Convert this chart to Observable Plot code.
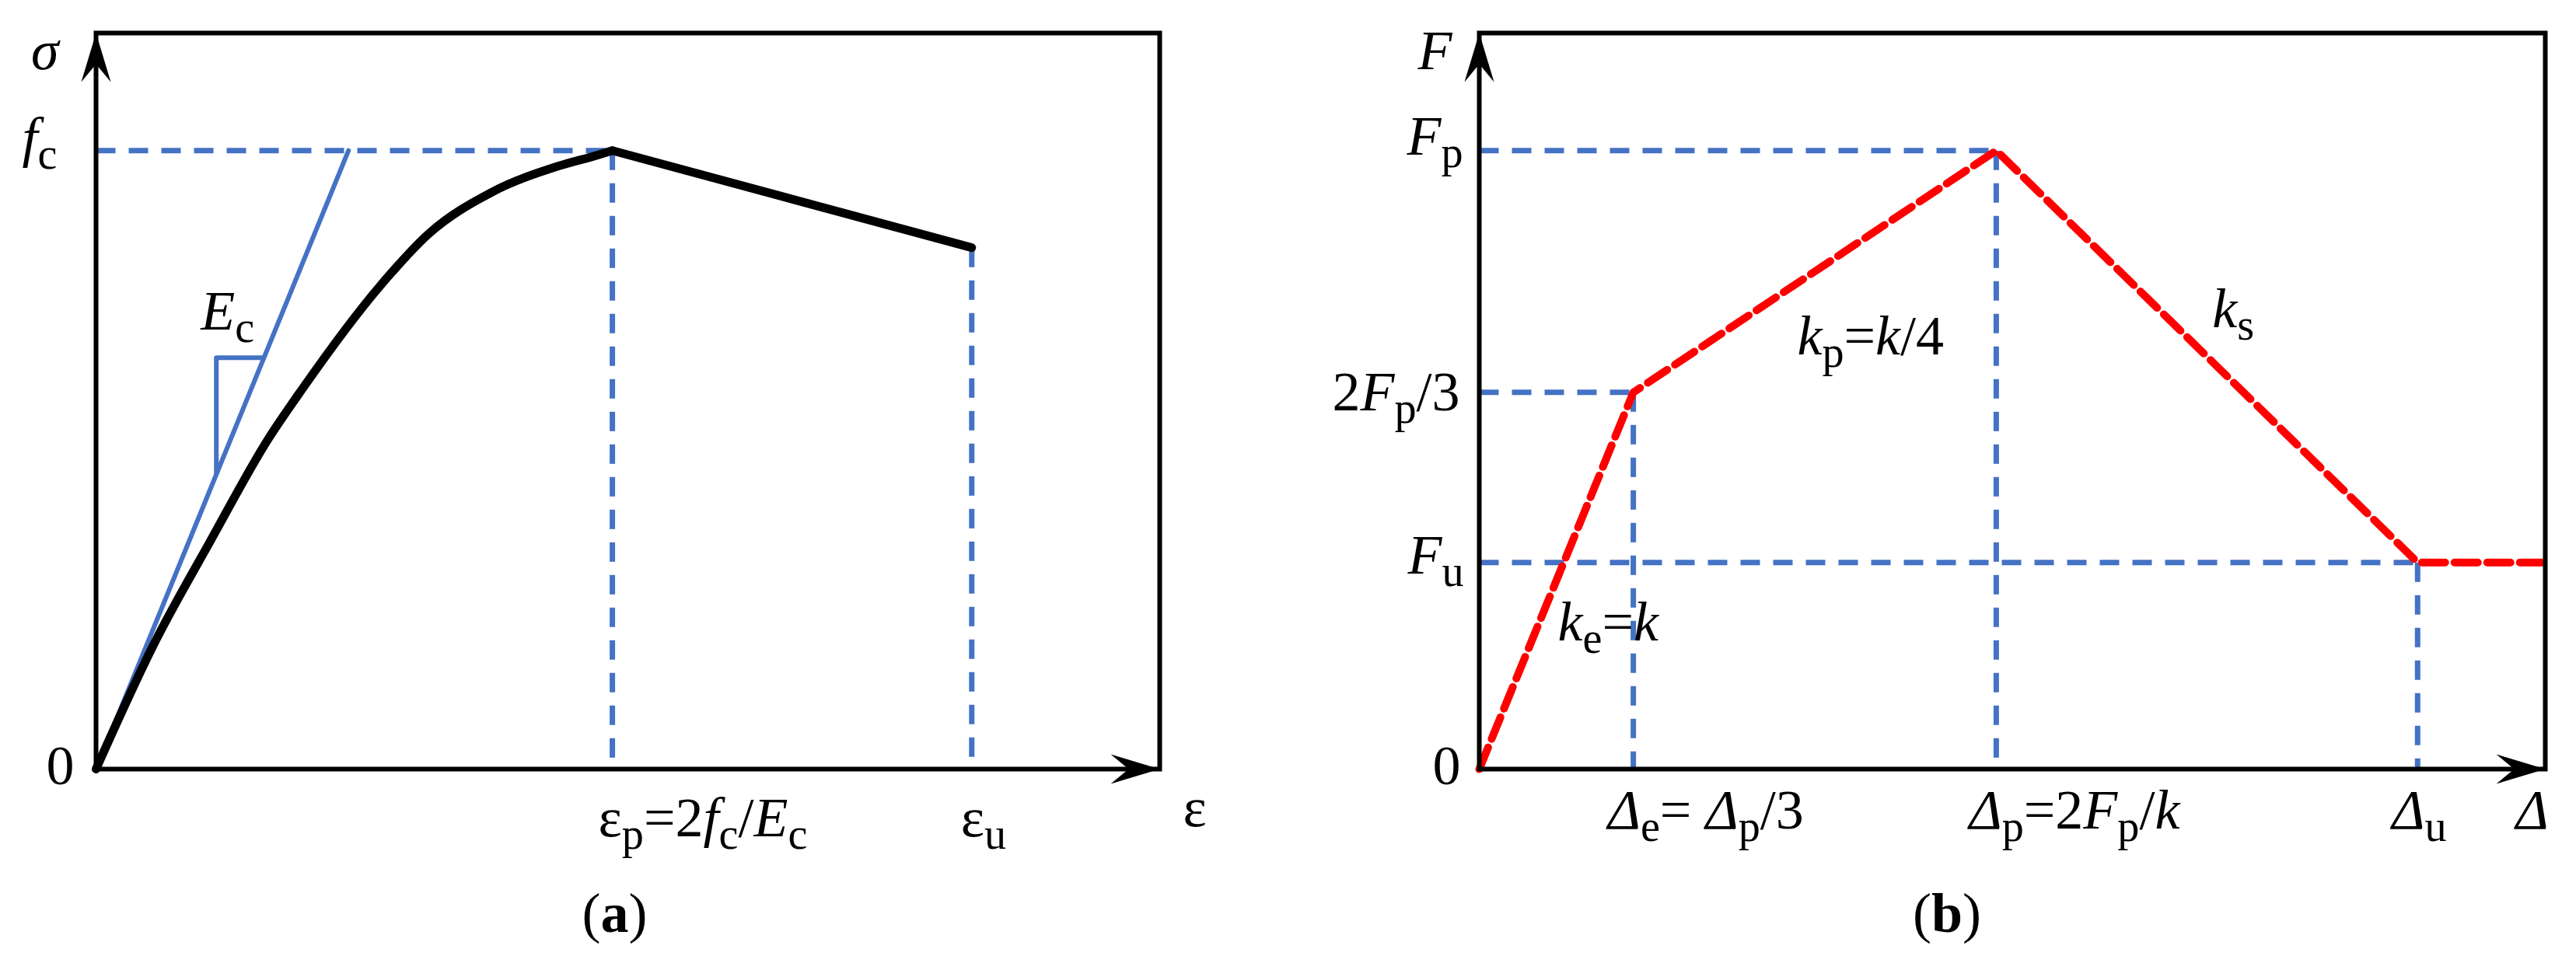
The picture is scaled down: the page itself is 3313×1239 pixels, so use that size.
<!DOCTYPE html>
<html>
<head>
<meta charset="utf-8">
<script src="https://cdn.jsdelivr.net/npm/d3@7"></script>
<script src="https://cdn.jsdelivr.net/npm/@observablehq/plot@0.6"></script>
<style>
  html, body { margin: 0; padding: 0; background: #ffffff; }
  #wrap { position: relative; width: 3313px; height: 1239px; overflow: hidden; background: #ffffff; }
  #pa { position: absolute; left: 0; top: 0; }
  #pb { position: absolute; left: 1656px; top: 0; }
  svg { overflow: visible; }
</style>
</head>
<body>
<div id="wrap"><div id="pa"></div><div id="pb"></div></div>
<script>
// ---------------- Panel (a): concrete stress–strain (units: ε/εp, σ/fc) ----------------
const aXMax = 2.06, aYMax = 1.19;
const aRiseStrain = [0, 0.113, 0.221, 0.333, 0.399, 0.55, 0.645, 0.765, 0.896, 0.973, 1.0];
const aRiseStress = [0, 0.2035, 0.368, 0.533, 0.614, 0.781, 0.866, 0.932, 0.975, 0.993, 1.0];
const aFallStrain = [1.0, 1.696];
const aFallStress = [1.0, 0.843];
const aTangentStrain = [0, 0.489];
const aTangentStress = [0, 1.0];
const aTriangleStrain = [0.233, 0.233, 0.325];
const aTriangleStress = [0.477, 0.665, 0.665];
const aPeakStrain = 1.0, aPeakStress = 1.0, aUltStrain = 1.696, aUltStress = 0.843;
const aYTickLabels = ["0", "*f*_c"];
const aXTickLabels = ["ε_p=2*f*_c/*E*_c", "ε_u"];
const aAxisLabels = ["*σ*", "ε"];
const aEcLabel = {x: 0.203, y: 0.711, t: "*E*_c"};
const aCaption = "(#a#)";

// ---------------- Panel (b): force–displacement (units: Δ/Δp, F/Fp) ----------------
const bXMax = 2.062, bYMax = 1.19;
const bCurveDisp  = [0, 0.298, 1.0, 1.815, 2.062];
const bCurveForce = [0, 0.609, 1.0, 0.334, 0.334];
const bElasticDisp = 0.298, bElasticForce = 0.609;
const bPeakDisp = 1.0, bPeakForce = 1.0;
const bUltDisp = 1.815, bUltForce = 0.334;
const bYTickLabels = ["0", "2*F*_p/3", "*F*_u", "*F*_p"];
const bXTickLabels = ["*Δ*_e= *Δ*_p/3", "*Δ*_p=2*F*_p/*k*", "*Δ*_u"];
const bAxisLabels = ["*F*", "*Δ*"];
const bSlopeLabels = [
  {x: 0.152, y: 0.2085, t: "*k*_e=*k*"},
  {x: 0.615, y: 0.671, t: "*k*_p=*k*/4"},
  {x: 1.418, y: 0.715, t: "*k*_s"}
];
const bCaption = "(#b#)";

// ---------------- styling ----------------
const FONT = "'Liberation Serif', 'Times New Roman', serif";
const FS = 72;
const BLUE = "#4472C4";
const RED = "#FF0000";

const arrowUp = {draw(ctx) { ctx.moveTo(0, 0); ctx.lineTo(19, 63); ctx.lineTo(0, 40); ctx.lineTo(-19, 63); ctx.closePath(); }};
const arrowRight = {draw(ctx) { ctx.moveTo(0, 0); ctx.lineTo(-63, -19); ctx.lineTo(-40, 0); ctx.lineTo(-63, 19); ctx.closePath(); }};

const pts = (xs, ys) => xs.map((x, i) => ({x, y: ys[i]}));

function lab(x, y, t, o) {
  return Plot.text([{x, y, t}], {x: "x", y: "y", text: "t", fontSize: FS, fontFamily: FONT,
    lineAnchor: "bottom", fill: "black", ...o});
}
function caption(t, o) {
  return Plot.text([t], {frameAnchor: "bottom", text: d => d, fontSize: FS, fontFamily: FONT,
    lineAnchor: "bottom", textAnchor: "middle", fill: "black", ...o});
}
function frameAndArrows(xMax, yMax) {
  return [
    Plot.frame({stroke: "black", strokeWidth: 6}),
    Plot.dot([{x: 0, y: yMax}], {x: "x", y: "y", symbol: arrowUp, fill: "black"}),
    Plot.dot([{x: xMax, y: 0}], {x: "x", y: "y", symbol: arrowRight, fill: "black"})
  ];
}

// ---------------- plot (a) ----------------
const aGuides = [
  {x1: 0, y1: aPeakStress, x2: aPeakStrain, y2: aPeakStress},
  {x1: aPeakStrain, y1: aPeakStress, x2: aPeakStrain, y2: 0},
  {x1: aUltStrain, y1: aUltStress, x2: aUltStrain, y2: 0}
];
const plotA = Plot.plot({
  width: 1656, height: 1239,
  marginLeft: 123, marginRight: 165, marginTop: 42, marginBottom: 250,
  x: {domain: [0, aXMax], axis: null},
  y: {domain: [0, aYMax], axis: null},
  style: {background: "transparent", fontFamily: FONT, overflow: "visible"},
  marks: [
    Plot.link(aGuides, {x1: "x1", y1: "y1", x2: "x2", y2: "y2", stroke: BLUE, strokeWidth: 7, strokeDasharray: "25,17"}),
    Plot.line(pts(aTangentStrain, aTangentStress), {x: "x", y: "y", stroke: BLUE, strokeWidth: 6}),
    Plot.line(pts(aTriangleStrain, aTriangleStress), {x: "x", y: "y", stroke: BLUE, strokeWidth: 6}),
    Plot.line(pts(aRiseStrain, aRiseStress), {x: "x", y: "y", curve: "monotone-x", stroke: "black", strokeWidth: 11, strokeLinecap: "round", strokeLinejoin: "round"}),
    Plot.line(pts(aFallStrain, aFallStress), {x: "x", y: "y", stroke: "black", strokeWidth: 11, strokeLinecap: "round", strokeLinejoin: "round"}),
    ...frameAndArrows(aXMax, aYMax),
    lab(0, aYMax, aAxisLabels[0], {textAnchor: "end", dx: -48, dy: 46}),
    lab(0, aPeakStress, aYTickLabels[1], {textAnchor: "end", dx: -50, dy: 7}),
    lab(0, 0, aYTickLabels[0], {textAnchor: "end", dx: -28, dy: 19}),
    lab(aPeakStrain, 0, aXTickLabels[0], {textAnchor: "start", dx: -18, dy: 86}),
    lab(aUltStrain, 0, aXTickLabels[1], {textAnchor: "start", dx: -14, dy: 86}),
    lab(aXMax, 0, aAxisLabels[1], {textAnchor: "start", dx: 30, dy: 73}),
    lab(aEcLabel.x, aEcLabel.y, aEcLabel.t, {textAnchor: "start"}),
    caption(aCaption, {dx: -17, dy: 209})
  ]
});

// ---------------- plot (b) ----------------
const bGuides = [
  {x1: 0, y1: bPeakForce, x2: bPeakDisp, y2: bPeakForce},
  {x1: 0, y1: bElasticForce, x2: bElasticDisp, y2: bElasticForce},
  {x1: 0, y1: bUltForce, x2: bUltDisp, y2: bUltForce},
  {x1: bElasticDisp, y1: bElasticForce, x2: bElasticDisp, y2: 0},
  {x1: bPeakDisp, y1: bPeakForce, x2: bPeakDisp, y2: 0},
  {x1: bUltDisp, y1: bUltForce, x2: bUltDisp, y2: 0}
];
const plotB = Plot.plot({
  width: 1657, height: 1239,
  marginLeft: 246, marginRight: 40, marginTop: 42, marginBottom: 250,
  x: {domain: [0, bXMax], axis: null},
  y: {domain: [0, bYMax], axis: null},
  style: {background: "transparent", fontFamily: FONT, overflow: "visible"},
  marks: [
    Plot.link(bGuides, {x1: "x1", y1: "y1", x2: "x2", y2: "y2", stroke: BLUE, strokeWidth: 7, strokeDasharray: "25,17"}),
    Plot.line(pts(bCurveDisp, bCurveForce), {x: "x", y: "y", stroke: RED, strokeWidth: 10, strokeDasharray: "30,12"}),
    ...frameAndArrows(bXMax, bYMax),
    lab(0, bYMax, bAxisLabels[0], {textAnchor: "end", dx: -35, dy: 46}),
    lab(0, bPeakForce, bYTickLabels[3], {textAnchor: "end", dx: -21, dy: 5}),
    lab(0, bElasticForce, bYTickLabels[1], {textAnchor: "end", dx: -25, dy: 23}),
    lab(0, bUltForce, bYTickLabels[2], {textAnchor: "end", dx: -20, dy: 14}),
    lab(0, 0, bYTickLabels[0], {textAnchor: "end", dx: -24, dy: 19}),
    lab(bElasticDisp, 0, bXTickLabels[0], {textAnchor: "start", dx: -33, dy: 76}),
    lab(bPeakDisp, 0, bXTickLabels[1], {textAnchor: "start", dx: -35, dy: 76}),
    lab(bUltDisp, 0, bXTickLabels[2], {textAnchor: "start", dx: -33, dy: 76}),
    lab(bXMax, 0, bAxisLabels[1], {textAnchor: "start", dx: -38, dy: 76}),
    ...bSlopeLabels.map(d => lab(d.x, d.y, d.t, {textAnchor: "start"})),
    caption(bCaption, {dx: -84, dy: 209})
  ]
});

// ---------------- rich text (italic / bold / subscript) ----------------
function richify(svg, base) {
  const subSize = base * 0.78, shift = base * 0.23;
  svg.querySelectorAll("text").forEach(t => {
    const s = t.textContent;
    if (!/[*#_]/.test(s)) return;
    const runs = [];
    let it = false, bd = false, i = 0;
    while (i < s.length) {
      const c = s[i];
      if (c === "*") { it = !it; i++; continue; }
      if (c === "#") { bd = !bd; i++; continue; }
      let sub = false, ch = c;
      if (c === "_") { sub = true; ch = s[i + 1]; i += 2; } else i++;
      const last = runs[runs.length - 1];
      if (last && last.it === it && last.bd === bd && last.sub === sub) last.t += ch;
      else runs.push({t: ch, it, bd, sub});
    }
    t.textContent = "";
    let cur = 0;
    for (const r of runs) {
      const ts = document.createElementNS("http://www.w3.org/2000/svg", "tspan");
      ts.textContent = r.t;
      ts.setAttribute("font-style", r.it ? "italic" : "normal");
      ts.setAttribute("font-weight", r.bd ? "bold" : "normal");
      const target = r.sub ? shift : 0;
      if (target !== cur) { ts.setAttribute("dy", target - cur); cur = target; }
      if (r.sub) ts.setAttribute("font-size", subSize);
      t.appendChild(ts);
    }
  });
}
richify(plotA, FS);
richify(plotB, FS);
document.getElementById("pa").appendChild(plotA);
document.getElementById("pb").appendChild(plotB);
</script>
</body>
</html>
